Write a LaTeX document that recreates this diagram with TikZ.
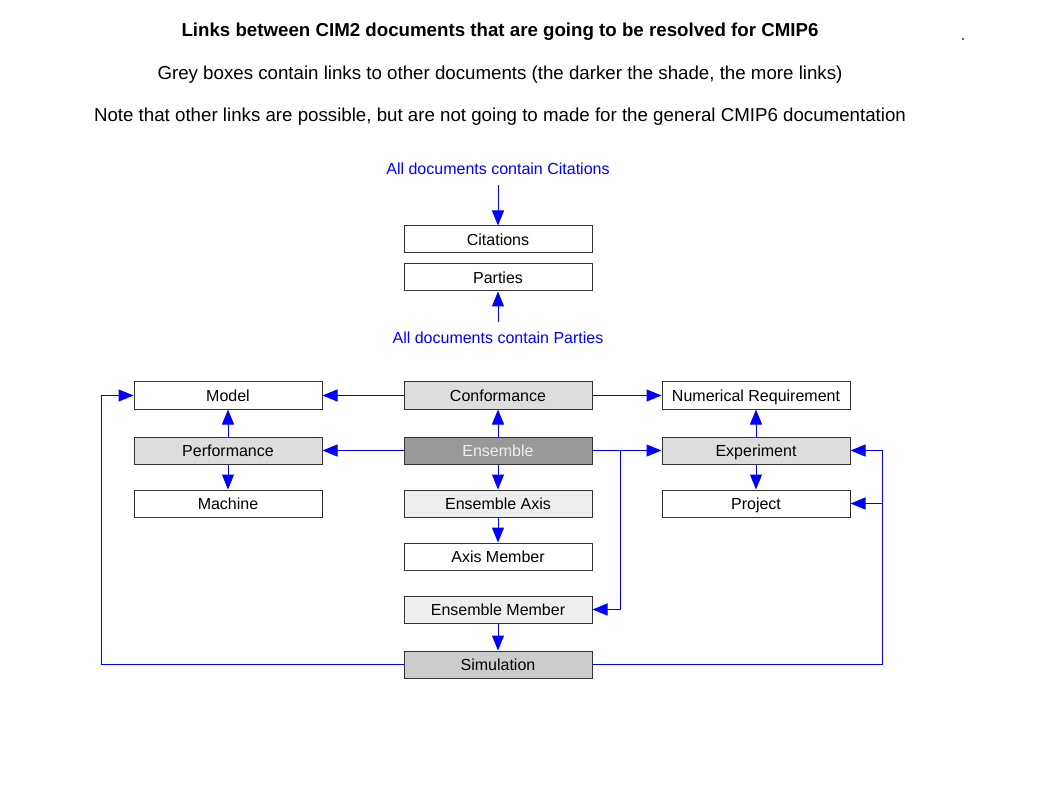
\documentclass[tikz,border=0pt]{standalone}
\usepackage{fontspec}
\setmainfont{Liberation Sans}
\usetikzlibrary{arrows.meta}
\definecolor{lgrey}{HTML}{DDDDDD}
\definecolor{vlgrey}{HTML}{EEEEEE}
\definecolor{mgrey}{HTML}{CCCCCC}
\definecolor{dgrey}{HTML}{999999}
\begin{document}
\begin{tikzpicture}[x=1pt,y=-1pt,
 doc/.style={draw=black!80, line width=1pt, minimum width=188pt, minimum height=27pt, inner sep=0pt, text height=11.5pt, text depth=0pt, font=\fontsize{16}{19}\selectfont, fill=white},
 link/.style={draw=blue, line width=1pt, -{Triangle[length=15pt,width=12pt]}},
 note/.style={text=blue, font=\fontsize{16}{19}\selectfont},
 head/.style={font=\fontsize{18.7}{22}\selectfont}]
\useasboundingbox[fill=white] (0,0) rectangle (1058,794);

\node[head,font=\fontsize{18.7}{22}\selectfont\bfseries] (t1) at (500,32) {Links between CIM2 documents that are going to be resolved for CMIP6};
\node[head] (t2) at (500,75) {Grey boxes contain links to other documents (the darker the shade, the more links)};
\node[head] (t3) at (500,117) {Note that other links are possible, but are not going to made for the general CMIP6 documentation};
\node[fill=black!60, minimum size=1.5pt, inner sep=0pt] (dot) at (963,39) {};

\node[note] (nc) at (498,169) {All documents contain Citations};
\node[note] (np) at (498,338) {All documents contain Parties};

\node[doc] (cit) at (498,239.5) {Citations};
\node[doc] (par) at (498,277.5) {Parties};

\node[doc] (model) at (228,395.5) {Model};
\node[doc,fill=lgrey] (conf) at (498,395.5) {Conformance};
\node[doc] (numreq) at (756,395.5) {Numerical Requirement};

\node[doc,fill=lgrey] (perf) at (228,450.5) {Performance};
\node[doc,fill=dgrey,text=vlgrey] (ens) at (498,450.5) {Ensemble};
\node[doc,fill=lgrey] (exp) at (756,450.5) {Experiment};

\node[doc] (mach) at (228,503.5) {Machine};
\node[doc,fill=vlgrey] (eaxis) at (498,503.5) {Ensemble Axis};
\node[doc] (proj) at (756,503.5) {Project};

\node[doc] (amem) at (498,556.5) {Axis Member};
\node[doc,fill=vlgrey] (emem) at (498,609.5) {Ensemble Member};
\node[doc,fill=mgrey] (sim) at (498,664.5) {Simulation};

\draw[link,shorten <=7pt] (nc) -- (cit);
\draw[link,shorten <=7pt] (np) -- (par);

\draw[link] (conf) -- (model);
\draw[link] (conf) -- (numreq);
\draw[link] (ens) -- (conf);
\draw[link] (ens) -- (perf);
\draw[link] (ens) -- (exp);
\draw[link] (ens) -- (eaxis);
\draw[link] (ens.east) -- ++(28,0) |- (emem.east);
\draw[link] (eaxis) -- (amem);
\draw[link] (emem) -- (sim);
\draw[link] (perf) -- (model);
\draw[link] (perf) -- (mach);
\draw[link] (exp) -- (numreq);
\draw[link] (exp) -- (proj);
\draw[link] (sim.west) -| ([xshift=-32pt]model.west) -- (model.west);
\draw[link] (sim.east) -| ([xshift=32pt]exp.east) -- (exp.east);
\draw[link] ([xshift=32pt]proj.east) -- (proj.east);
\end{tikzpicture}
\end{document}
